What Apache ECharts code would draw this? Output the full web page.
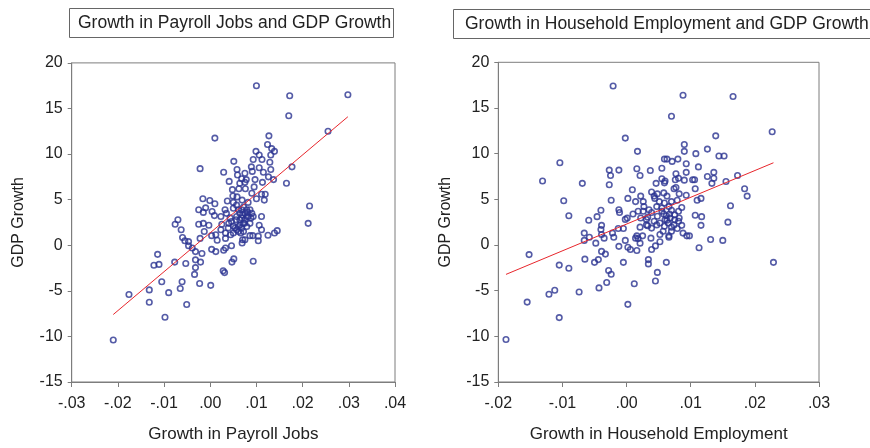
<!DOCTYPE html>
<html>
<head>
<meta charset="utf-8">
<title>Payroll Jobs, Household Employment and GDP Growth</title>
<script src="https://cdn.jsdelivr.net/npm/echarts@6/dist/echarts.min.js"></script>
<style>
  html, body { margin: 0; padding: 0; background: #ffffff; }
  #chart { width: 870px; height: 448px; }
</style>
</head>
<body>
<div id="chart"></div>
<script>
// Quarterly growth in payroll jobs vs. GDP growth
const payrollX = [
  0.0100, 0.0172, 0.0298, 0.0170, 0.0255, 0.0010, 0.0127, 0.0124, 0.0133, 0.0139,
  0.0131, 0.0099, 0.0106, 0.0112, 0.0093, 0.0129, 0.0051, 0.0089, 0.0106, 0.0058,
  -0.0022, 0.0029, 0.0075, 0.0091, 0.0115, 0.0131, 0.0177, 0.0059, 0.0068, 0.0078,
  0.0097, 0.0126, 0.0137, 0.0113, 0.0041, 0.0165, 0.0064, 0.0075, 0.0095, 0.0048,
  0.0062, 0.0076, 0.0090, 0.0111, 0.0119, 0.0117, 0.0100, 0.0049, 0.0058, -0.0016,
  -0.0001, 0.0010, 0.0037, 0.0050, 0.0069, 0.0082, -0.0010, -0.0025, -0.0015, 0.0004,
  0.0009, 0.0032, 0.0035, 0.0050, 0.0061, 0.0072, 0.0079, 0.0090, 0.0093, 0.0111,
  0.0023, 0.0043, 0.0057, 0.0068, 0.0075, 0.0082, -0.0070, -0.0076, -0.0025, -0.0015,
  -0.0003, 0.0025, 0.0040, 0.0050, 0.0065, 0.0074, 0.0086, 0.0106, -0.0063, -0.0013,
  0.0003, 0.0012, 0.0023, 0.0033, 0.0044, 0.0057, 0.0066, 0.0086, 0.0092, 0.0104,
  0.0111, 0.0125, 0.0139, 0.0145, -0.0060, -0.0055, -0.0047, -0.0022, 0.0015, 0.0033,
  0.0070, 0.0075, 0.0104, -0.0047, -0.0039, 0.0069, 0.0003, 0.0012, 0.0029, 0.0033,
  0.0046, -0.0032, -0.0018, -0.0114, -0.0122, -0.0111, -0.0077, -0.0053, -0.0032, -0.0021,
  -0.0032, 0.0047, 0.0051, 0.0093, 0.0028, 0.0031, -0.0034, -0.0105, -0.0061, -0.0023,
  0.0001, -0.0065, -0.0132, -0.0090, -0.0176, -0.0132, -0.0051, -0.0098, -0.0210, 0.0215,
  0.0212, 0.0057, 0.0068, 0.0075, 0.0079, 0.0064, 0.0072, 0.0079, 0.0061, 0.0068,
  0.0054, 0.0070, 0.0081, 0.0086, 0.0088, 0.0064, 0.0056, 0.0046, 0.0061, 0.0072,
  0.0050, 0.0039
];
const payrollGdp = [
  17.5, 16.4, 16.5, 14.2, 12.5, 11.75, 12.0, 11.05, 10.6, 10.3,
  9.9, 10.3, 9.9, 9.4, 9.4, 9.1, 9.2, 8.6, 8.5, 8.3,
  8.4, 8.0, 7.9, 8.1, 8.0, 8.3, 8.6, 7.7, 7.3, 7.2,
  7.2, 7.5, 7.2, 6.9, 7.0, 6.8, 6.8, 6.9, 6.4, 6.1,
  6.2, 6.2, 5.7, 5.6, 5.6, 4.95, 5.1, 5.4, 5.3, 5.1,
  4.9, 4.55, 4.85, 4.7, 4.95, 4.7, 4.1, 3.9, 3.6, 3.7,
  3.25, 3.9, 3.5, 4.05, 3.9, 4.2, 3.9, 3.5, 3.15, 3.15,
  3.15, 3.0, 3.15, 3.0, 2.8, 3.15, 2.8, 2.3, 2.3, 2.4,
  2.2, 2.3, 2.4, 2.1, 2.25, 2.4, 2.4, 2.2, 1.7, 1.5,
  1.05, 1.15, 1.7, 1.35, 1.15, 1.7, 1.35, 1.05, 1.05, 1.0,
  1.7, 1.1, 1.35, 1.6, 0.85, 0.5, 0.4, 0.75, 0.55, 0.75,
  0.6, 0.6, 0.5, -0.05, -0.3, 0.25, -0.45, -0.7, -0.55, -0.3,
  -0.05, -0.7, -0.9, -1.0, -2.2, -2.1, -1.85, -2.0, -1.6, -1.85,
  -2.45, -1.85, -1.5, -1.75, -2.8, -3.0, -3.2, -4.0, -4.0, -4.2,
  -4.4, -4.75, -4.9, -5.2, -5.4, -6.25, -6.5, -7.9, -10.4, 4.3,
  2.4, 4.4, 3.9, 3.5, 3.15, 2.8, 2.4, 2.05, 2.05, 1.9,
  1.9, 3.3, 3.6, 3.9, 3.0, 3.5, 2.8, 2.6, 1.5, 1.5,
  1.35, 1.9
];

// Quarterly growth in household employment vs. GDP growth
const householdX = [
  -0.0021, 0.0088, 0.0166, 0.0070, 0.0227, 0.0139, -0.0002, 0.0090, 0.0090, 0.0017,
  0.0108, 0.0126, 0.0144, 0.0152, -0.0104, 0.0059, 0.0063, 0.0071, 0.0080, 0.0093,
  0.0112, 0.0055, 0.0016, 0.0037, -0.0027, -0.0012, 0.0093, 0.0136, 0.0077, 0.0021,
  -0.0025, 0.0126, 0.0136, 0.0173, 0.0055, 0.0060, 0.0076, 0.0081, 0.0090, 0.0103,
  0.0106, -0.0131, -0.0069, 0.0046, 0.0059, 0.0133, 0.0155, -0.0027, 0.0074, 0.0077,
  0.0107, 0.0184, 0.0009, 0.0039, 0.0058, 0.0048, 0.0082, 0.0093, 0.0188, 0.0022,
  0.0043, 0.0063, 0.0002, 0.0044, 0.0116, 0.0110, -0.0098, -0.0024, 0.0014, 0.0026,
  0.0051, 0.0070, 0.0079, 0.0059, 0.0066, 0.0086, 0.0162, 0.0027, 0.0047, 0.0055,
  -0.0040, -0.0012, 0.0035, 0.0018, 0.0026, 0.0070, 0.0081, -0.0011, 0.0010, 0.0058,
  0.0067, 0.0075, -0.0090, -0.0046, 0.0033, 0.0048, 0.0062, 0.0068, 0.0107, 0.0117,
  0.0001, 0.0022, 0.0082, -0.0059, -0.0002, 0.0063, 0.0043, 0.0158, -0.0039, 0.0031,
  0.0033, 0.0052, 0.0074, 0.0086, 0.0116, -0.0005, -0.0040, -0.0013, 0.0021, 0.0039,
  0.0059, 0.0070, 0.0079, -0.0066, -0.0039, -0.0022, 0.0016, 0.0025, 0.0052, 0.0066,
  0.0088, 0.0094, 0.0098, -0.0058, -0.0035, -0.0020, 0.0014, 0.0038, 0.0066, -0.0066,
  -0.0002, 0.0018, 0.0131, 0.0150, -0.0048, 0.0021, 0.0052, -0.0012, 0.0002, 0.0045,
  0.0006, 0.0016, 0.0039, 0.0113, -0.0152, -0.0039, -0.0033, -0.0065, -0.0044, 0.0034,
  -0.0050, -0.0005, 0.0034, 0.0062, 0.0229, -0.0105, -0.0090, -0.0028, -0.0024, 0.0048,
  0.0045, -0.0031, 0.0012, -0.0043, -0.0074, -0.0112, -0.0121, -0.0155, 0.0002, -0.0105,
  -0.0188, 0.0060, 0.0055, 0.0075, 0.0047, 0.0065, 0.0057, 0.0070, 0.0081, 0.0039,
  0.0031
];
const householdGdp = [
  17.4, 16.4, 16.25, 14.1, 12.4, 11.95, 11.7, 11.0, 10.25, 10.25,
  10.0, 10.5, 9.75, 9.75, 9.0, 9.4, 9.4, 9.15, 9.4, 8.9,
  8.55, 8.4, 8.35, 8.15, 8.2, 8.2, 7.95, 7.95, 7.8, 7.6,
  7.6, 7.5, 7.3, 7.6, 7.25, 7.0, 7.15, 7.3, 7.1, 7.15,
  7.15, 7.0, 6.75, 6.75, 6.8, 6.75, 6.95, 6.6, 6.15, 6.3,
  6.15, 6.15, 6.05, 5.8, 5.7, 5.6, 5.6, 5.45, 5.35, 5.35,
  5.35, 5.35, 5.1, 5.1, 5.1, 4.9, 4.85, 4.9, 4.75, 4.75,
  4.75, 4.75, 4.9, 4.6, 4.2, 4.1, 4.3, 4.2, 4.2, 4.05,
  3.8, 3.85, 3.85, 3.7, 3.7, 3.8, 3.7, 3.55, 3.4, 3.4,
  3.4, 3.3, 3.2, 3.1, 3.05, 3.15, 3.2, 2.95, 3.25, 3.1,
  2.95, 2.95, 2.95, 2.7, 2.8, 2.7, 2.6, 2.5, 2.15, 2.2,
  2.1, 2.4, 2.2, 2.15, 2.15, 1.8, 1.7, 1.8, 1.95, 1.85,
  2.05, 1.95, 1.8, 1.3, 1.15, 1.3, 1.0, 1.0, 1.15, 1.0,
  1.3, 1.0, 1.0, 0.85, 0.75, 0.85, 0.75, 0.75, 0.85, 0.5,
  0.5, 0.7, 0.6, 0.5, 0.2, 0.2, 0.35, -0.15, -0.25, -0.1,
  -0.5, -0.6, -0.5, -0.3, -1.05, -0.7, -1.0, -1.55, -1.6, -1.6,
  -1.9, -1.9, -2.07, -1.9, -1.9, -2.2, -2.55, -2.8, -3.2, -3.0,
  -3.95, -4.1, -4.25, -4.7, -5.15, -4.95, -5.4, -6.25, -6.5, -7.95,
  -10.35, 2.75, 3.7, 2.75, 2.2, 2.4, 1.5, 1.5, 2.6, 3.55,
  2.8
];

// Fitted regression lines: GDP growth = intercept + slope * employment growth
const payrollFit = { intercept: 1.37, slope: 427 };
const householdFit = { intercept: 2.29, slope: 293 };

// Axis tick labels
const payrollTicks = ['-.03', '-.02', '-.01', '.00', '.01', '.02', '.03', '.04'];
const householdTicks = ['-.02', '-.01', '.00', '.01', '.02', '.03'];
const gdpTicks = ['-15', '-10', '-5', '0', '5', '10', '15', '20'];

const BLUE = '#2a3391';
const RED = '#e8262c';
const FRAME = '#7d7d7d';
const TEXT = '#222222';
const FONT = '"Liberation Sans", Arial, Helvetica, sans-serif';

function pairs(xs, ys) {
  return xs.map((x, i) => [x, ys[i]]);
}
function fitLine(xs, fit) {
  const lo = Math.min(...xs), hi = Math.max(...xs);
  return [[lo, fit.intercept + fit.slope * lo], [hi, fit.intercept + fit.slope * hi]];
}
function tickFormatter(labels, min, step) {
  return v => labels[Math.round((v - min) / step)] ?? '';
}

function xAxis(gridIndex, min, max, labels, name) {
  return {
    type: 'value', gridIndex, min, max, interval: 0.01,
    name, nameLocation: 'middle', nameGap: 44,
    nameTextStyle: { color: TEXT, fontSize: 17, fontFamily: FONT },
    axisLine: { show: true, onZero: false, lineStyle: { color: FRAME, width: 1 } },
    axisTick: { show: true, length: 5, lineStyle: { color: FRAME } },
    axisLabel: { color: TEXT, fontSize: 16, fontFamily: FONT, margin: 14,
                 formatter: tickFormatter(labels, min, 0.01) },
    splitLine: { show: false }
  };
}
function yAxis(gridIndex, name) {
  return {
    type: 'value', gridIndex, min: -15, max: 20, interval: 5,
    name, nameLocation: 'middle', nameGap: 45,
    nameTextStyle: { color: TEXT, fontSize: 16, fontFamily: FONT },
    axisLine: { show: true, onZero: false, lineStyle: { color: FRAME, width: 1 } },
    axisTick: { show: true, length: 4, lineStyle: { color: FRAME } },
    axisLabel: { color: TEXT, fontSize: 16, fontFamily: FONT, margin: 9,
                 formatter: tickFormatter(gdpTicks, -15, 5) },
    splitLine: { show: false }
  };
}
function scatter(idx, xs, ys) {
  return {
    type: 'scatter', xAxisIndex: idx, yAxisIndex: idx,
    data: pairs(xs, ys), symbol: 'circle', symbolSize: 5.5,
    itemStyle: { color: 'rgba(255,255,255,0)', borderColor: BLUE, borderWidth: 1.6 },
    silent: true, z: 3
  };
}
function line(idx, xs, fit) {
  return {
    type: 'line', xAxisIndex: idx, yAxisIndex: idx,
    data: fitLine(xs, fit), showSymbol: false, symbol: 'none',
    lineStyle: { color: RED, width: 1 }, silent: true, z: 4
  };
}

const chart = echarts.init(document.getElementById('chart'), null, { renderer: 'canvas' });
chart.setOption({
  backgroundColor: '#ffffff',
  animation: false,
  textStyle: { fontFamily: FONT },
  title: [
    { text: 'Growth in Payroll Jobs and GDP Growth', left: 69, top: 8,
      borderColor: '#666', borderWidth: 1, padding: [6, 3, 6, 9],
      textStyle: { color: TEXT, fontSize: 17.5, fontWeight: 'normal', fontFamily: FONT } },
    { text: 'Growth in Household Employment and GDP Growth', left: 453, top: 9,
      borderColor: '#666', borderWidth: 1, padding: [6, 9, 6, 12],
      textStyle: { color: TEXT, fontSize: 17.5, fontWeight: 'normal', fontFamily: FONT } }
  ],
  grid: [
    { left: 71.7, top: 62.9, width: 323.3, height: 322.7, show: true,
      borderColor: FRAME, borderWidth: 1, backgroundColor: 'transparent' },
    { left: 498.3, top: 62.3, width: 320.7, height: 320.4, show: true,
      borderColor: FRAME, borderWidth: 1, backgroundColor: 'transparent' }
  ],
  xAxis: [
    xAxis(0, -0.03, 0.04, payrollTicks, 'Growth in Payroll Jobs'),
    xAxis(1, -0.02, 0.03, householdTicks, 'Growth in Household Employment')
  ],
  yAxis: [
    yAxis(0, 'GDP Growth'),
    yAxis(1, 'GDP Growth')
  ],
  series: [
    scatter(0, payrollX, payrollGdp),
    line(0, payrollX, payrollFit),
    scatter(1, householdX, householdGdp),
    line(1, householdX, householdFit)
  ]
});
</script>
</body>
</html>
